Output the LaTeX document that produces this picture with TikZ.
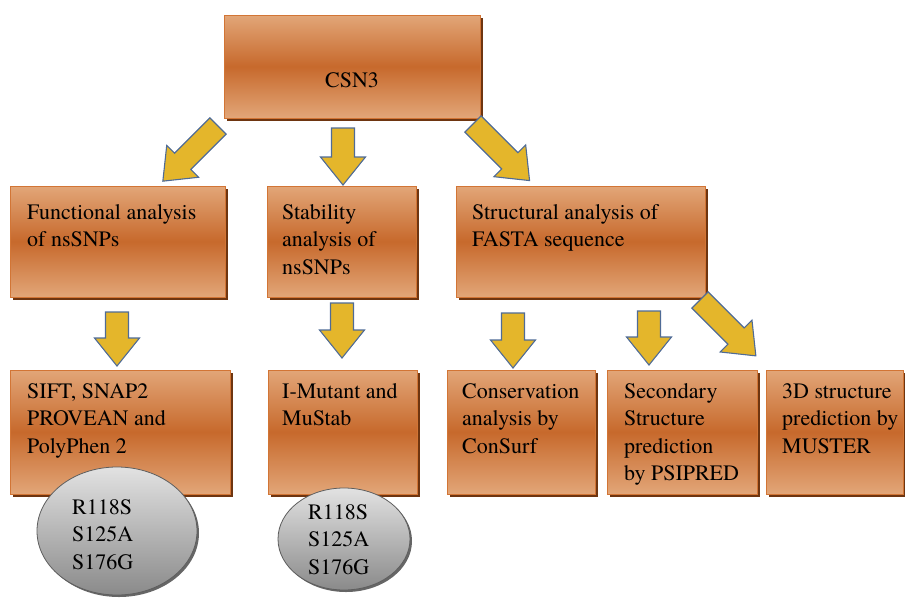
\documentclass[tikz,border=0pt]{standalone}
\usepackage{fontspec}
\setmainfont{texgyretermes}[Extension=.otf, UprightFont=*-regular, BoldFont=*-bold, ItalicFont=*-italic, BoldItalicFont=*-bolditalic]
\usetikzlibrary{shadows,shapes.geometric}
\definecolor{boxlight}{HTML}{E2A678}
\definecolor{boxdark}{HTML}{C7692C}
\definecolor{boxedge}{HTML}{D27535}
\definecolor{boxshadow}{HTML}{6E3510}
\definecolor{arrowyellow}{HTML}{E4B62B}
\definecolor{arrowedge}{HTML}{4F6B96}
\definecolor{elltop}{HTML}{E2E2E2}
\definecolor{ellbot}{HTML}{8A8A8A}
\definecolor{elledge}{HTML}{5E5E5E}
\tikzset{
  box/.style={rectangle, inner sep=0pt, draw=boxedge, line width=0.8pt,
    top color=boxlight, bottom color=boxlight, middle color=boxdark,
    general shadow={shadow xshift=3pt, shadow yshift=-3pt, fill=boxshadow}},
  lbl/.style={anchor=north west, inner sep=0pt, align=left,
    font=\fontsize{22}{27.5}\selectfont},
  ell/.style={ellipse, inner sep=0pt, draw=elledge, line width=0.8pt,
    top color=elltop, bottom color=ellbot,
    general shadow={shadow xshift=2pt, shadow yshift=-2pt, fill=black!60}},
  arrowfill/.style={fill=arrowyellow, draw=arrowedge, line width=1.1pt, line join=miter},
  pics/barrow/.style={code={
    \path[arrowfill] (0,-11.5) -- ({#1-28},-11.5) -- ({#1-28},-22.5) -- (#1,0)
      -- ({#1-28},22.5) -- ({#1-28},11.5) -- (0,11.5) -- cycle;}}
}
\begin{document}
\begin{tikzpicture}[x=1pt,y=-1pt]
\useasboundingbox (0,0) rectangle (905,598);
\clip (0,0) rectangle (905,598);
% boxes
\node[box, minimum width=256pt, minimum height=103pt] (top) at (352,66.5) {};
\node[box, minimum width=215pt, minimum height=111pt] (func) at (117.5,241.5) {};
\node[box, minimum width=149pt, minimum height=111pt] (stab) at (341.5,241.5) {};
\node[box, minimum width=249pt, minimum height=111pt] (struct) at (580.5,241.5) {};
\node[box, minimum width=220pt, minimum height=124pt] (sift) at (120,432) {};
\node[box, minimum width=149pt, minimum height=124pt] (imut) at (342.5,432) {};
\node[box, minimum width=148pt, minimum height=124pt] (cons) at (521,432) {};
\node[box, minimum width=150pt, minimum height=124pt] (sec) at (682,432) {};
\node[box, minimum width=137pt, minimum height=124pt] (tdm) at (834.5,432) {};
% labels
\node[inner sep=0pt, font=\fontsize{22}{27.5}\selectfont] (topl) at (352,80) {CSN3};
\node[lbl] (funcl) at (27,204) {Functional analysis\\of nsSNPs};
\node[lbl] (stabl) at (282,204) {Stability\\analysis of\\nsSNPs};
\node[lbl] (structl) at (472,204) {Structural analysis of\\FASTA sequence};
\node[lbl] (siftl) at (27,383) {SIFT, SNAP2\\PROVEAN and\\PolyPhen 2};
\node[lbl] (imutl) at (282,383) {I-Mutant and\\MuStab};
\node[lbl] (consl) at (462,383) {Conservation\\analysis by\\ConSurf};
\node[lbl] (secl) at (624,383) {Secondary\\Structure\\prediction\\by PSIPRED};
\node[lbl] (tdml) at (782,383) {3D structure\\prediction by\\MUSTER};
% ellipses
\node[ell, minimum width=160pt, minimum height=128pt] (e1) at (117,531) {};
\node[lbl] (e1l) at (72,499) {R118S\\S125A\\S176G};
\node[ell, minimum width=132pt, minimum height=102pt] (e2) at (344,539) {};
\node[lbl] (e2l) at (308,504) {R118S\\S125A\\S176G};
% block arrows
\pic[rotate=-90] at (343,128) {barrow=57};
\pic[rotate=-135] at (218,126) {barrow=78};
\pic[rotate=-45] at (473,124) {barrow=80};
\pic[rotate=-90] at (117,312) {barrow=54};
\pic[rotate=-90] at (342,303) {barrow=55};
\pic[rotate=-90] at (513,313) {barrow=55};
\pic[rotate=-90] at (649,311) {barrow=54};
\pic[rotate=-45] at (700,300) {barrow=79};
\end{tikzpicture}
\end{document}
